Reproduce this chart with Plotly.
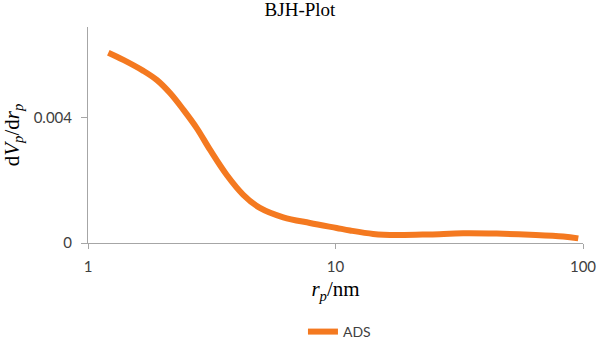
import plotly.graph_objects as go

# Data (pore radius r_p in nm, dVp/drp)
r_p = [1.208, 1.389, 1.673, 1.895, 2.145, 2.427, 2.75, 3.11, 3.63, 4.24, 4.95,
       6.15, 7.88, 10.1, 11.44, 14.2, 17.7, 24.1, 32.8, 44.8, 61.1, 83.2, 95.7]
dv_drp = [0.00608, 0.00585, 0.00550, 0.00521, 0.00479, 0.00426, 0.00367, 0.00298,
          0.00218, 0.00154, 0.00112, 0.00082, 0.00064, 0.00048, 0.00040, 0.00029,
          0.000255, 0.000275, 0.00031, 0.00030, 0.000265, 0.00021, 0.000147]
x_ticks = [1, 10, 100]
x_tick_labels = ["1", "10", "100"]
y_ticks = [0, 0.004]
y_tick_labels = ["0", "0.004"]

fig = go.Figure()
fig.add_trace(go.Scatter(
    x=r_p, y=dv_drp, mode="lines", name="ADS",
    line=dict(color="#F47920", width=6, shape="spline", smoothing=1.0),
))

axis_col = "#A6A6A6"
tick_font = dict(family="Lato, Liberation Sans, sans-serif", size=15, color="#404040")
serif = "Liberation Serif, Times New Roman, serif"

fig.update_layout(
    width=597, height=339,
    margin=dict(l=88, r=14, t=27, b=96, autoexpand=False),
    paper_bgcolor="white", plot_bgcolor="white",
    title=dict(text="BJH-Plot", xref="container", x=0.5025, xanchor="center",
               yref="container", y=0.9735, yanchor="middle",
               font=dict(family=serif, size=19, color="black")),
    showlegend=True,
    legend=dict(orientation="h", x=0.508, xanchor="center", y=-0.412, yanchor="middle",
                font=dict(family="Lato, Liberation Sans, sans-serif", size=14, color="#404040"),
                itemwidth=30),
    xaxis=dict(type="log", range=[0, 2], tickvals=x_ticks, ticktext=x_tick_labels,
               showgrid=False, zeroline=False, showline=True, linecolor=axis_col, linewidth=1,
               ticks="outside", ticklen=5, tickcolor=axis_col, tickfont=tick_font,
               ticklabelstandoff=5,
               title=dict(text="<i>r</i><sub><i>p</i></sub>/nm",
                          font=dict(family=serif, size=21, color="black"), standoff=7)),
    yaxis=dict(range=[0, 0.0069], tickvals=y_ticks, ticktext=y_tick_labels,
               showgrid=False, zeroline=False, showline=True, linecolor=axis_col, linewidth=1,
               ticks="outside", ticklen=6, tickcolor=axis_col, tickfont=tick_font,
               ticklabelstandoff=6,
               title=dict(text="d<i>V</i><sub><i>p</i></sub>/d<i>r</i><sub><i>p</i></sub>",
                          font=dict(family=serif, size=21, color="black"), standoff=14)),
)

fig.write_html("out.html", config={"displayModeBar": False},
               post_script="document.body.style.margin='0';")
